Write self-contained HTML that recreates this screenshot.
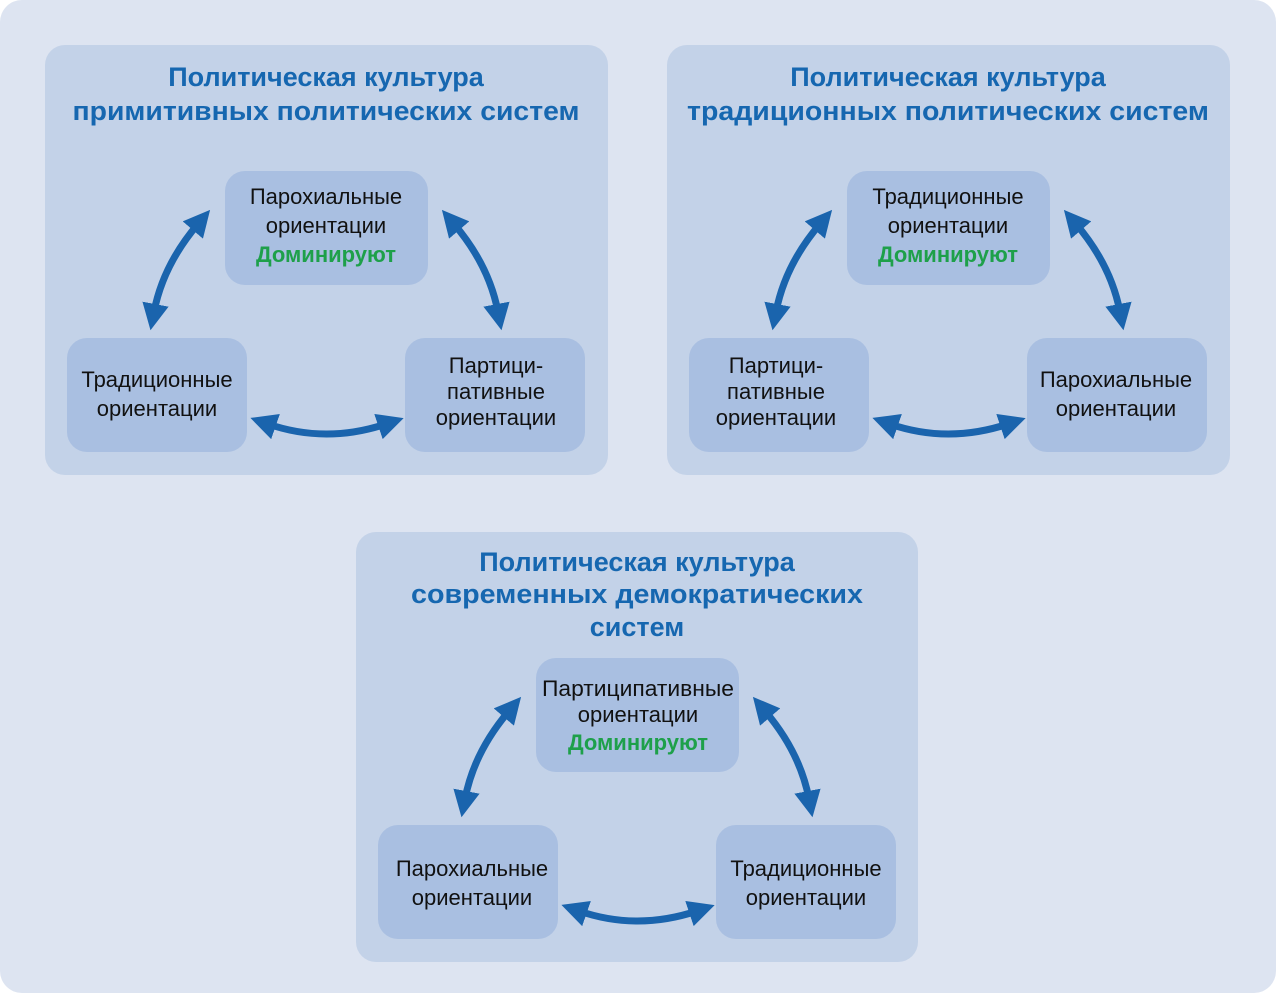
<!DOCTYPE html>
<html><head><meta charset="utf-8"><style>
html,body{margin:0;padding:0;background:#fff}
svg{display:block}
text{font-family:"Liberation Sans",sans-serif}
.t{font-size:27px;font-weight:bold;fill:#1667b0;text-anchor:middle}
.b{font-size:22px;fill:#111;text-anchor:middle}
.g{font-size:22px;font-weight:bold;fill:#1ea04a;text-anchor:middle}
.a{fill:none;stroke:#1a64ad;stroke-width:7;marker-start:url(#m);marker-end:url(#m)}
.p{fill:#c3d2e8}
.x{fill:#a9bfe1}
</style></head><body>
<svg width="1276" height="993" viewBox="0 0 1276 993">
<defs>
<marker id="m" viewBox="0 0 10 10" refX="3" refY="5" markerWidth="3.8" markerHeight="3.8" orient="auto-start-reverse" markerUnits="strokeWidth">
<path d="M0,0 L10,5 L0,10 z" fill="#1a64ad"/>
</marker>
<g id="arr">
<path class="a" d="M198,224 Q163,265 154,312"/>
<path class="a" d="M454,224 Q489,265 498,312"/>
<path class="a" d="M268,424 Q326,444 386,424"/>
</g>
</defs>
<rect x="0" y="0" width="1276" height="993" rx="22" fill="#dde4f1"/>

<rect class="p" x="45" y="45" width="563" height="430" rx="20"/>
<text class="t" x="326" y="86">Политическая культура</text>
<text class="t" x="326" y="120" textLength="507" lengthAdjust="spacingAndGlyphs">примитивных политических систем</text>
<rect class="x" x="225" y="171" width="203" height="114" rx="20"/>
<text class="b" x="326" y="204">Парохиальные</text>
<text class="b" x="326" y="233">ориентации</text>
<text class="g" x="326" y="262">Доминируют</text>
<rect class="x" x="67" y="338" width="180" height="114" rx="20"/>
<text class="b" x="157" y="387">Традиционные</text>
<text class="b" x="157" y="416">ориентации</text>
<rect class="x" x="405" y="338" width="180" height="114" rx="20"/>
<text class="b" x="496" y="373">Партици-</text>
<text class="b" x="496" y="399">пативные</text>
<text class="b" x="496" y="425">ориентации</text>
<use href="#arr"/>

<rect class="p" x="667" y="45" width="563" height="430" rx="20"/>
<text class="t" x="948" y="86">Политическая культура</text>
<text class="t" x="948" y="120" textLength="522" lengthAdjust="spacingAndGlyphs">традиционных политических систем</text>
<rect class="x" x="847" y="171" width="203" height="114" rx="20"/>
<text class="b" x="948" y="204">Традиционные</text>
<text class="b" x="948" y="233">ориентации</text>
<text class="g" x="948" y="262">Доминируют</text>
<rect class="x" x="689" y="338" width="180" height="114" rx="20"/>
<text class="b" x="776" y="373">Партици-</text>
<text class="b" x="776" y="399">пативные</text>
<text class="b" x="776" y="425">ориентации</text>
<rect class="x" x="1027" y="338" width="180" height="114" rx="20"/>
<text class="b" x="1116" y="387">Парохиальные</text>
<text class="b" x="1116" y="416">ориентации</text>
<use href="#arr" transform="translate(622,0)"/>

<rect class="p" x="356" y="532" width="562" height="430" rx="20"/>
<text class="t" x="637" y="571">Политическая культура</text>
<text class="t" x="637" y="603" textLength="452" lengthAdjust="spacingAndGlyphs">современных демократических</text>
<text class="t" x="637" y="636">систем</text>
<rect class="x" x="536" y="658" width="203" height="114" rx="20"/>
<text class="b" x="638" y="696" textLength="192" lengthAdjust="spacingAndGlyphs">Партиципативные</text>
<text class="b" x="638" y="722">ориентации</text>
<text class="g" x="638" y="750">Доминируют</text>
<rect class="x" x="378" y="825" width="180" height="114" rx="20"/>
<text class="b" x="472" y="876">Парохиальные</text>
<text class="b" x="472" y="905">ориентации</text>
<rect class="x" x="716" y="825" width="180" height="114" rx="20"/>
<text class="b" x="806" y="876">Традиционные</text>
<text class="b" x="806" y="905">ориентации</text>
<use href="#arr" transform="translate(311,487)"/>
</svg>
</body></html>
